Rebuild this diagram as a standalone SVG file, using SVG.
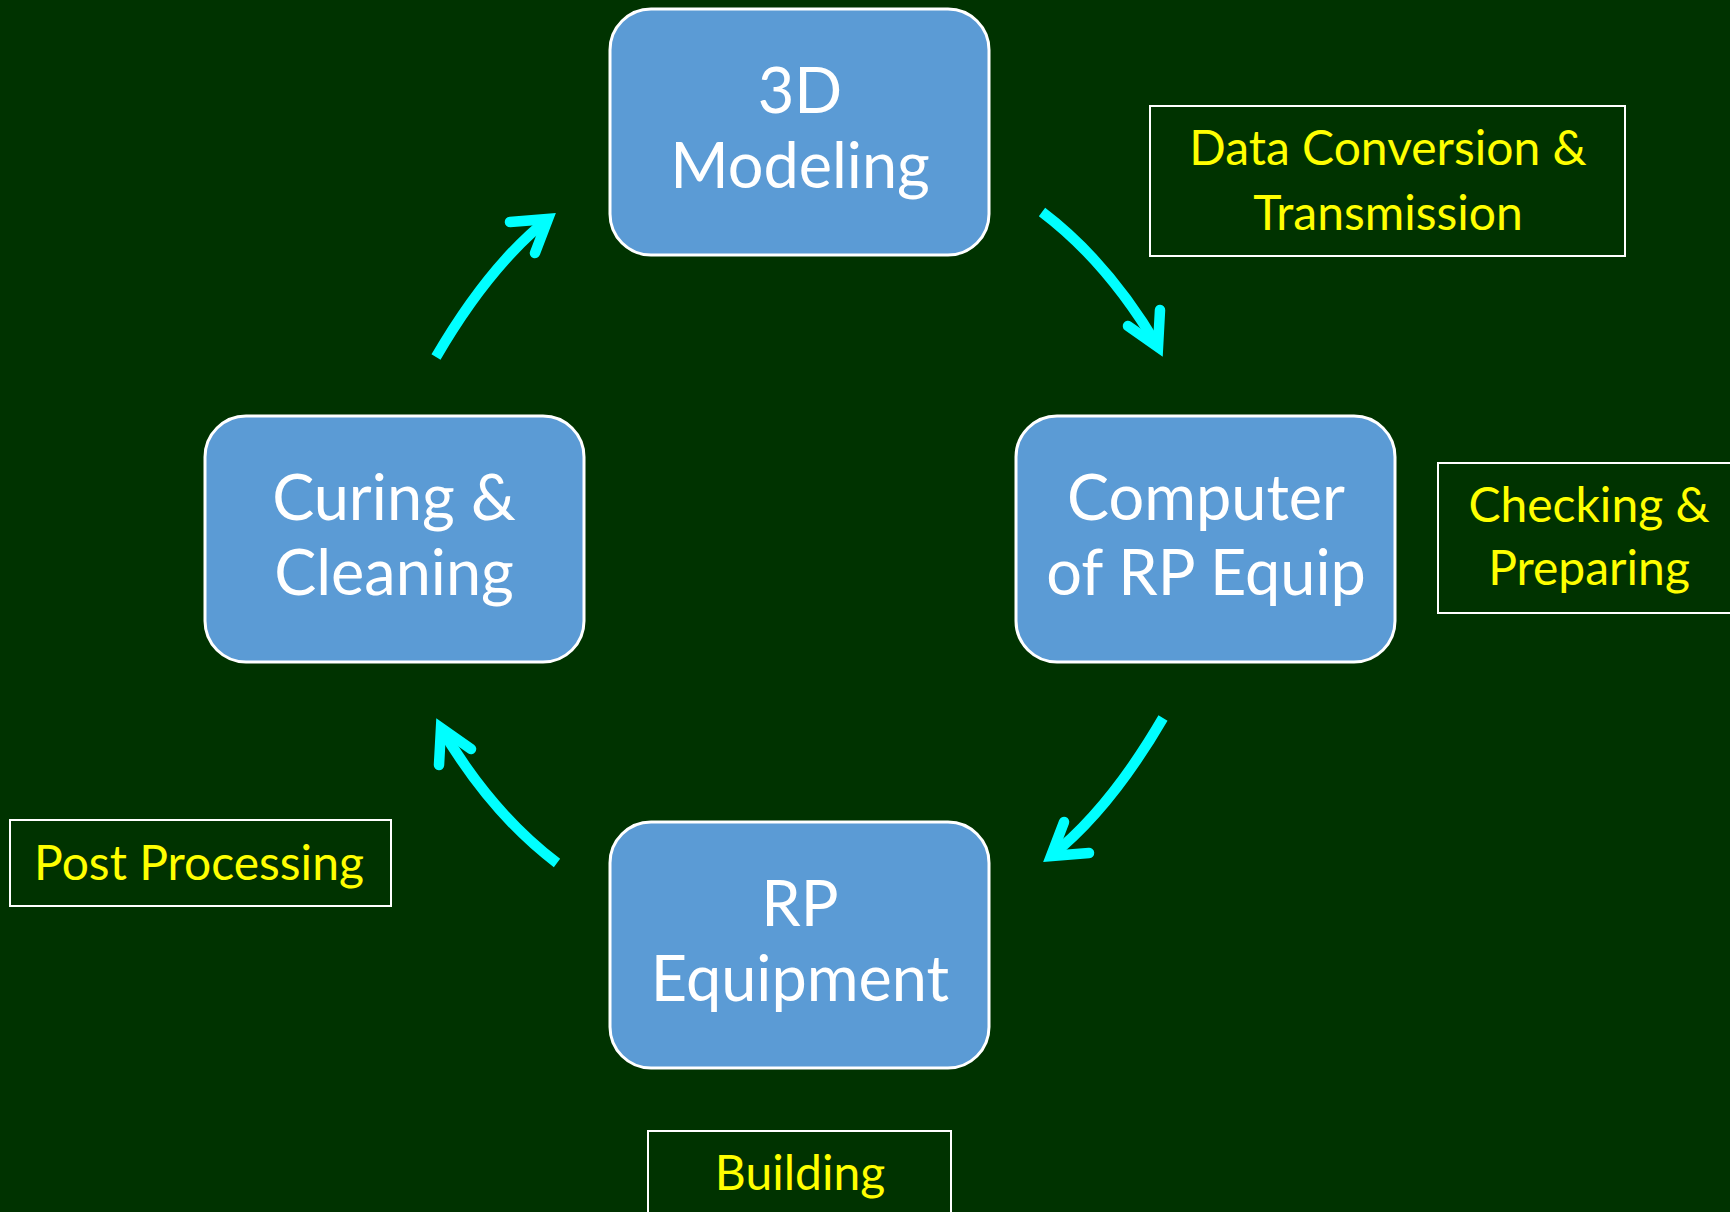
<svg xmlns="http://www.w3.org/2000/svg" width="1730" height="1212" viewBox="0 0 1730 1212">
  <style>
    .step rect { fill: #5B9BD5; stroke: #FFFFFF; stroke-width: 3; }
    .step text { font-family: Lato, "Open Sans", sans-serif; font-size: 63px; fill: #FFFFFF; text-anchor: middle; }
    .label rect { fill: none; stroke: #FFFFFF; stroke-width: 2; }
    .label text { font-family: Lato, "Open Sans", sans-serif; font-size: 48px; fill: #FFFF00; text-anchor: middle; }
    .shaft { fill: none; stroke: #00FFFF; stroke-width: 10.5; stroke-linecap: butt; }
    .head { fill: none; stroke: #00FFFF; stroke-width: 10.5; stroke-linecap: round; stroke-linejoin: miter; stroke-miterlimit: 6; }
  </style>
  <rect x="0" y="0" width="1730" height="1212" fill="#003300"/>

  <!-- process steps -->
  <g id="node-3d-modeling" class="step">
    <rect x="610" y="9" width="379" height="246" rx="41" ry="41"/>
    <text x="800" y="113">3D</text>
    <text x="800" y="188">Modeling</text>
  </g>
  <g id="node-computer" class="step">
    <rect x="1016" y="416" width="379" height="246" rx="41" ry="41"/>
    <text x="1206" y="520">Computer</text>
    <text x="1206" y="595">of RP Equip</text>
  </g>
  <g id="node-rp-equipment" class="step">
    <rect x="610" y="822" width="379" height="246" rx="41" ry="41"/>
    <text x="800" y="926">RP</text>
    <text x="800" y="1001">Equipment</text>
  </g>
  <g id="node-curing" class="step">
    <rect x="205" y="416" width="379" height="246" rx="41" ry="41"/>
    <text x="394" y="520">Curing &amp;</text>
    <text x="394" y="595">Cleaning</text>
  </g>

  <!-- stage labels -->
  <g id="label-data-conversion" class="label">
    <rect x="1150" y="106" width="475" height="150"/>
    <text x="1388" y="165">Data Conversion &amp;</text>
    <text x="1388" y="230">Transmission</text>
  </g>
  <g id="label-checking" class="label">
    <rect x="1438" y="463" width="302" height="150"/>
    <text x="1589" y="522">Checking &amp;</text>
    <text x="1589" y="585">Preparing</text>
  </g>
  <g id="label-building" class="label">
    <rect x="648" y="1131" width="303" height="100"/>
    <text x="800" y="1190">Building</text>
  </g>
  <g id="label-post-processing" class="label">
    <rect x="10" y="820" width="381" height="86"/>
    <text x="199" y="880">Post Processing</text>
  </g>

  <!-- curved cycle arrows -->
  <g id="connectors">
    <g id="arrow-modeling-to-computer">
      <path class="shaft" d="M1042,212 Q1108,262 1158,347"/>
      <polyline class="head" points="1128,326 1158,347 1160,310"/>
    </g>
    <g id="arrow-computer-to-equipment">
      <path class="shaft" d="M1163,718 Q1110,809 1051,856"/>
      <polyline class="head" points="1064,822 1051,856 1089,853"/>
    </g>
    <g id="arrow-equipment-to-curing">
      <path class="shaft" d="M557,863 Q491,813 441,728"/>
      <polyline class="head" points="471,749 441,728 439,765"/>
    </g>
    <g id="arrow-curing-to-modeling">
      <path class="shaft" d="M436,357 Q489,266 548,219"/>
      <polyline class="head" points="510,222 548,219 535,253"/>
    </g>
  </g>
</svg>
